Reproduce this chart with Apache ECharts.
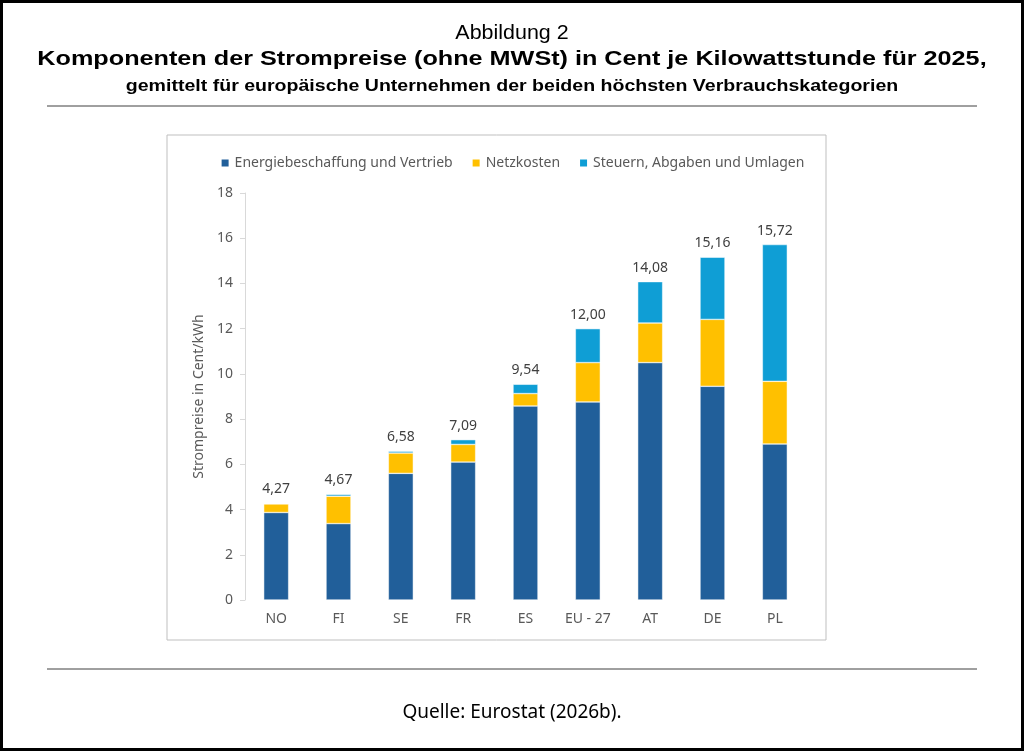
<!DOCTYPE html>
<html>
<head>
<meta charset="utf-8">
<script src="https://cdn.jsdelivr.net/npm/echarts@6/dist/echarts.min.js"></script>
<style>
  html, body { margin: 0; padding: 0; background: #fff; }
  #chart { width: 1024px; height: 751px; }
</style>
</head>
<body>
<div id="chart"></div>
<script>
let categories = ['NO', 'FI', 'SE', 'FR', 'ES', 'EU - 27', 'AT', 'DE', 'PL']
let energie = [3.87, 3.38, 5.60, 6.10, 8.58, 8.76, 10.50, 9.45, 6.90]
let netz = [0.38, 1.21, 0.90, 0.78, 0.55, 1.74, 1.75, 2.96, 2.77]
let steuern = [0.02, 0.08, 0.08, 0.21, 0.41, 1.50, 1.83, 2.75, 6.05]
let totals = [4.27, 4.67, 6.58, 7.09, 9.54, 12.00, 14.08, 15.16, 15.72]
let seriesNames = ['Energiebeschaffung und Vertrieb', 'Netzkosten', 'Steuern, Abgaben und Umlagen']

let chartFont = 'Noto Sans'
let grey = '#595959'

// heading text, slightly stretched sideways like the original
titleText = (text, y, size, weight, sx) => {
	return {
		type: 'text',
		x: 512,
		y: y,
		scaleX: sx,
		silent: true,
		style: {
			text: text,
			x: 0,
			y: 0,
			align: 'center',
			verticalAlign: 'middle',
			font: weight + ' ' + size + 'px "Liberation Sans"',
			fill: '#000'
		}
	}
}

let chart = echarts.init(document.getElementById('chart'))
let option = {
	backgroundColor: '#fff',
	color: ['#215F9A', '#FFC000', '#0F9ED5'],
	animation: false,
	title: {
		text: 'Quelle: Eurostat (2026b).',
		left: 'center',
		top: 698,
		textStyle: { fontFamily: chartFont, fontSize: 19, fontWeight: 'normal', color: '#000' }
	},
	graphic: [
		titleText('Abbildung 2', 33.6, 19.5, 'normal', 1.10),
		titleText('Komponenten der Strompreise (ohne MWSt) in Cent je Kilowattstunde für 2025,', 59.6, 21, 'bold', 1.2),
		titleText('gemittelt für europäische Unternehmen der beiden höchsten Verbrauchskategorien', 85.9, 17, 'bold', 1.15),
		// outer frame
		{ type: 'rect', shape: { x: 1.5, y: 1.5, width: 1021, height: 748 }, style: { fill: 'none', stroke: '#000', lineWidth: 3 }, silent: true },
		// chart box
		{ type: 'rect', shape: { x: 167, y: 135, width: 659, height: 505 }, style: { fill: 'none', stroke: '#BFBFBF', lineWidth: 1 }, silent: true },
		// separator lines
		{ type: 'line', shape: { x1: 47, y1: 106, x2: 977, y2: 106 }, style: { stroke: '#404040', lineWidth: 1 }, silent: true },
		{ type: 'line', shape: { x1: 47, y1: 669, x2: 977, y2: 669 }, style: { stroke: '#404040', lineWidth: 1 }, silent: true }
	],
	legend: {
		data: seriesNames,
		top: 151,
		left: 'center',
		itemWidth: 9,
		itemHeight: 9,
		itemGap: 18,
		icon: 'rect',
		textStyle: { fontFamily: chartFont, fontSize: 14, color: grey }
	},
	grid: {
		top: 193,
		left: 245,
		right: 218,
		bottom: 151,
		containLabel: false
	},
	xAxis: {
		type: 'category',
		data: categories,
		axisLine: { show: false },
		axisTick: { show: false },
		axisLabel: { fontFamily: chartFont, fontSize: 14, color: grey, margin: 12 }
	},
	yAxis: {
		type: 'value',
		min: 0,
		max: 18,
		interval: 2,
		name: 'Strompreise in Cent/kWh',
		nameLocation: 'middle',
		nameGap: 38,
		nameTextStyle: { fontFamily: chartFont, fontSize: 14, color: grey },
		axisLine: { show: true, lineStyle: { color: '#D9D9D9' } },
		axisTick: { show: true, length: 5, lineStyle: { color: '#D9D9D9' } },
		splitLine: { show: false },
		axisLabel: { fontFamily: chartFont, fontSize: 14, color: grey, margin: 12 }
	},
	series: [{
			name: seriesNames[0],
			type: 'bar',
			stack: 'total',
			barWidth: '40%',
			itemStyle: { borderColor: '#fff', borderWidth: 0.5 },
			data: energie
		},
		{
			name: seriesNames[1],
			type: 'bar',
			stack: 'total',
			itemStyle: { borderColor: '#fff', borderWidth: 0.5 },
			data: netz
		},
		{
			name: seriesNames[2],
			type: 'bar',
			stack: 'total',
			itemStyle: { borderColor: '#fff', borderWidth: 0.5 },
			label: {
				show: true,
				position: 'top',
				distance: 7,
				fontFamily: chartFont,
				fontSize: 14,
				color: '#404040',
				formatter: function(p) {
					return totals[p.dataIndex].toFixed(2).replace('.', ',')
				}
			},
			data: steuern
		}
	]
}
chart.setOption(option)
</script>
</body>
</html>
